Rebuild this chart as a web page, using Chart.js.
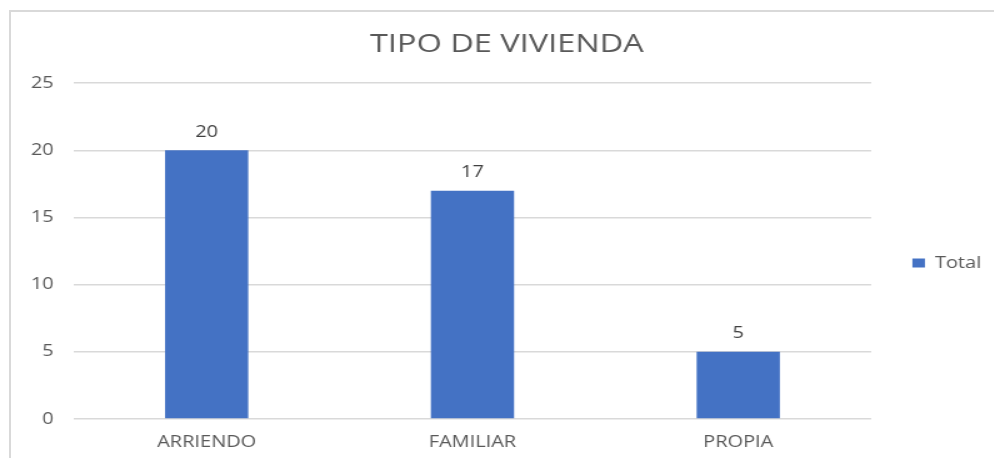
<!DOCTYPE html>
<html>
<head>
<meta charset="utf-8">
<script src="https://cdn.jsdelivr.net/npm/chart.js@4/dist/chart.umd.min.js"></script>
<style>
  body { margin: 0; background: #fff; overflow: hidden; }
  #frame { position: absolute; left: 9px; top: 10px; width: 1200px; height: 600px; border-left: 2px solid #d9d9d9; border-top: 2px solid #d9d9d9; }
  /* the source picture is stretched sideways, so the chart is drawn narrow and widened */
  #wrap { position: absolute; left: 0; top: 0; width: 795px; height: 458px; transform: scaleX(1.25); transform-origin: 0 0; }
</style>
</head>
<body>
<div id="frame"></div>
<div id="wrap"><canvas id="chartVivienda"></canvas></div>
<script>
const labels = ["ARRIENDO", "FAMILIAR", "PROPIA"];
const totals = [20, 17, 5];
const yTicks = [0, 5, 10, 15, 20, 25];

const gray = "#595959";
const fontFamily = "'Open Sans', sans-serif";

// numbers above every bar
const barLabels = {
  id: "barLabels",
  afterDatasetsDraw(chart) {
    const ctx = chart.ctx;
    ctx.save();
    ctx.font = "16px " + fontFamily;
    ctx.fillStyle = "#404040";
    ctx.textAlign = "center";
    ctx.textBaseline = "middle";
    chart.getDatasetMeta(0).data.forEach((bar, i) => {
      ctx.fillText(totals[i], bar.x, bar.y - 18);
    });
    ctx.restore();
  },
};

let ctx = document.getElementById("chartVivienda");
const chart = new Chart(ctx, {
  type: "bar",
  data: {
    labels: labels,
    datasets: [
      {
        label: "Total",
        data: totals,
        backgroundColor: "#4472C4",
        borderWidth: 0,
        barPercentage: 0.313,
        categoryPercentage: 1,
      },
    ],
  },
  options: {
    responsive: true,
    maintainAspectRatio: false,
    animation: false,
    layout: {
      padding: { top: 12, left: 16, right: 0, bottom: 8 },
    },
    plugins: {
      title: {
        display: true,
        text: "TIPO DE VIVIENDA",
        color: gray,
        font: { family: fontFamily, size: 26, weight: "normal" },
        padding: { top: 17, bottom: 23 },
      },
      legend: {
        position: "right",
        // empty legend title only pushes the single item down
        title: { display: true, text: "", font: { size: 10 }, padding: { top: 52, bottom: 0 } },
        labels: {
          color: gray,
          boxWidth: 10,
          boxHeight: 9,
          padding: 33,
          font: { family: fontFamily, size: 16 },
        },
      },
      tooltip: { enabled: false },
    },
    scales: {
      x: {
        grid: { display: false, drawTicks: false, tickLength: 0 },
        border: { display: false },
        afterFit(scale) {
          scale.height = 31;
        },
        ticks: {
          color: gray,
          padding: 14,
          maxRotation: 0,
          font: { family: fontFamily, size: 16 },
        },
      },
      y: {
        min: 0,
        max: 25,
        afterBuildTicks(scale) {
          scale.ticks = yTicks.map((v) => ({ value: v }));
        },
        afterFit(scale) {
          scale.width = 43;
        },
        grid: { color: "#d9d9d9", lineWidth: 1.5, drawTicks: false },
        border: { display: false },
        ticks: {
          color: gray,
          padding: 16,
          font: { family: fontFamily, size: 16 },
        },
      },
    },
  },
  plugins: [barLabels],
});
</script>
</body>
</html>
